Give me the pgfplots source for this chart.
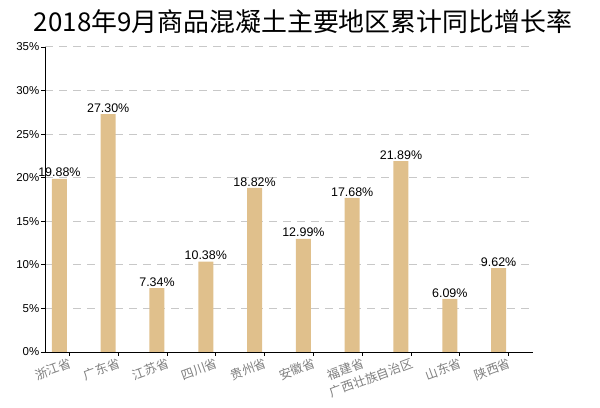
\documentclass[border=0pt]{standalone}
\usepackage{pgfplots}
\pgfplotsset{compat=1.18}
\usepackage{fontspec}
\setmainfont{Liberation Sans}
\newfontfamily\cjk{Noto Sans CJK SC}
\definecolor{barc}{HTML}{E0C08C}
\definecolor{gridc}{HTML}{C8C8C8}
\definecolor{labc}{HTML}{7F7F7F}
\begin{document}
\begin{tikzpicture}
\begin{axis}[
  at={(0,0)}, anchor=south west,
  scale only axis, width=488bp, height=305bp,
  xmin=-0.5, xmax=9.5, ymin=0, ymax=35,
  axis lines=left, axis line style={-, black, line width=1bp},
  /pgf/number format/assume math mode=true,
  xtick={0,...,9},
  xticklabels={浙江省,广东省,江苏省,四川省,贵州省,安徽省,福建省,广西壮族自治区,山东省,陕西省},
  xticklabel style={font=\cjk\fontsize{12.5}{13}\selectfont, text=labc, rotate=20, anchor=north east, inner sep=1bp},
  ytick={0,5,...,35},
  yticklabel={\pgfmathprintnumber{\tick}\%},
  yticklabel style={font=\fontsize{11.5}{13}\selectfont, inner sep=1.5bp},
  tick style={black, line width=0.8bp}, major tick length=4bp, tick align=outside,
  ymajorgrids, grid style={gridc, dash pattern=on 8bp off 6bp, line width=1bp},
  ybar, bar width=15bp, bar shift=-10bp,
  nodes near coords={\pgfmathprintnumber[fixed,fixed zerofill,precision=2]{\pgfplotspointmeta}\%},
  every node near coord/.append style={font=\fontsize{12.5}{14}\selectfont, black, inner sep=1.5bp},
]
\addplot[fill=barc, draw=none] coordinates {
  (0,19.88) (1,27.30) (2,7.34) (3,10.38) (4,18.82)
  (5,12.99) (6,17.68) (7,21.89) (8,6.09) (9,9.62)
};
\end{axis}
\node[font=\cjk\fontsize{26}{28}\selectfont] at (258bp,330bp) {2018年9月商品混凝土主要地区累计同比增长率};
\pgfresetboundingbox
\path (-45bp,-56bp) rectangle (555bp,352bp);
\end{tikzpicture}
\end{document}
